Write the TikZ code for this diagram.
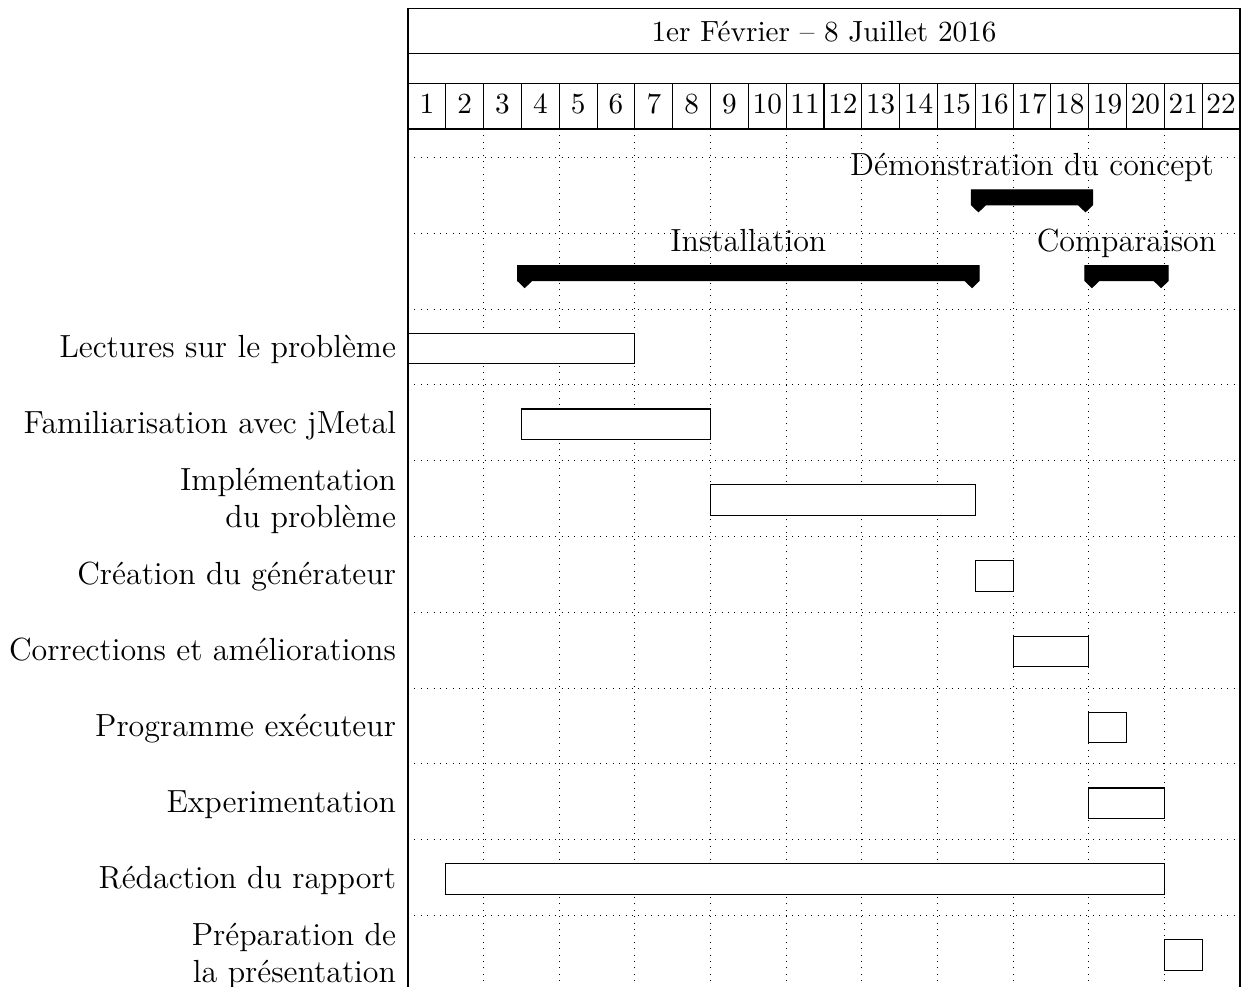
\documentclass[tikz,border=0pt]{standalone}
\tikzset{
  frameline/.style={line width=0.4pt, draw=black},
  gridline/.style={line width=0.4pt, draw=black, dotted},
  taskbar/.style={line width=0.4pt, draw=black, fill=white},
  groupbar/.style={line width=0.4pt, draw=black, fill=black},
  tasklabel/.style={anchor=east, inner sep=0pt, align=right, font=\fontsize{12}{13.9}\selectfont},
  grouplabel/.style={anchor=base, inner sep=0pt, font=\fontsize{12}{14.5}\selectfont},
  headlabel/.style={anchor=base, inner sep=0pt, font=\fontsize{10.95}{13.6}\selectfont},
}
% chart geometry (one unit = one drawing pixel)
\newcommand\chartL{408}
\newcommand\chartR{1240}
\newcommand\colw{37.818}
\newcommand\rowh{75.8}
\newcommand\gridtop{157.5}
% group bar: name, first column, last column, row centre, label
\newcommand\ganttgrp[5]{%
  \pgfmathsetmacro\gxa{\chartL+(#2-1.1)*\colw}%
  \pgfmathsetmacro\gxb{\chartL+(#3+0.1)*\colw}%
  \filldraw[groupbar] (\gxa,{#4-5.5}) -- (\gxb,{#4-5.5}) -- (\gxb,{#4+9.5})
    -- ({\gxb-7},{#4+16.3}) -- ({\gxb-14},{#4+9.5}) -- ({\gxa+14},{#4+9.5})
    -- ({\gxa+7},{#4+16.3}) -- (\gxa,{#4+9.5}) -- cycle;
  \node[grouplabel] (#1) at ({(\gxa+\gxb)/2},{#4-19.5}) {#5};%
}
\begin{document}
\begin{tikzpicture}[x=0.375pt, y=-0.375pt]
\useasboundingbox (0,0) rectangle (1244,987);

% dotted grid
\foreach \k in {0,...,10}
  \draw[gridline] (\chartL,{\gridtop+\k*\rowh}) -- (\chartR,{\gridtop+\k*\rowh});
\foreach \i in {2,4,...,20}
  \draw[gridline] ({\chartL+\i*\colw},129) -- ({\chartL+\i*\colw},987);

% header: title row, empty row, week numbers
\draw[frameline] (\chartL,8.3) rectangle (\chartR,129);
\draw[frameline] (\chartL,53.3) -- (\chartR,53.3);
\draw[frameline] (\chartL,83.3) -- (\chartR,83.3);
\foreach \i in {1,...,21}
  \draw[frameline] ({\chartL+\i*\colw},83.3) -- ({\chartL+\i*\colw},129);
\node[headlabel] (title) at ({(\chartL+\chartR)/2},41.7) {1er Février – 8 Juillet 2016};
\foreach \i in {1,...,22}
  \node[headlabel] (week\i) at ({\chartL+(\i-0.5)*\colw},113.8) {\i};

% chart frame
\draw[frameline] (\chartL,8.3) -- (\chartL,987);
\draw[frameline] (\chartR,8.3) -- (\chartR,987);

% groups
\ganttgrp{demo}{16}{18}{195.4}{Démonstration du concept}
\ganttgrp{install}{4}{15}{271.2}{Installation}
\ganttgrp{compare}{19}{20}{271.2}{Comparaison}

% tasks: row / first column / last column / label
\foreach \r/\a/\b/\txt in {
  1/1/6/{\strut Lectures sur le problème},
  2/4/8/{\strut Familiarisation avec jMetal},
  3/9/15/{\strut Implémentation\\\strut du problème},
  4/16/16/{\strut Création du générateur},
  5/17/18/{\strut Corrections et améliorations},
  6/19/19/{\strut Programme exécuteur},
  7/19/20/{\strut Experimentation},
  8/2/20/{\strut Rédaction du rapport},
  9/21/21/{\strut Préparation de\\\strut la présentation}} {
  \pgfmathsetmacro\cy{\gridtop+(\r+1)*\rowh+\rowh/2}
  \draw[taskbar] ({\chartL+(\a-1)*\colw},{\cy-13.8}) rectangle ({\chartL+\b*\colw},{\cy+16.7});
  \node[tasklabel] (task\r) at (396.5,{\cy+3}) {\txt};
}
\end{tikzpicture}
\end{document}
